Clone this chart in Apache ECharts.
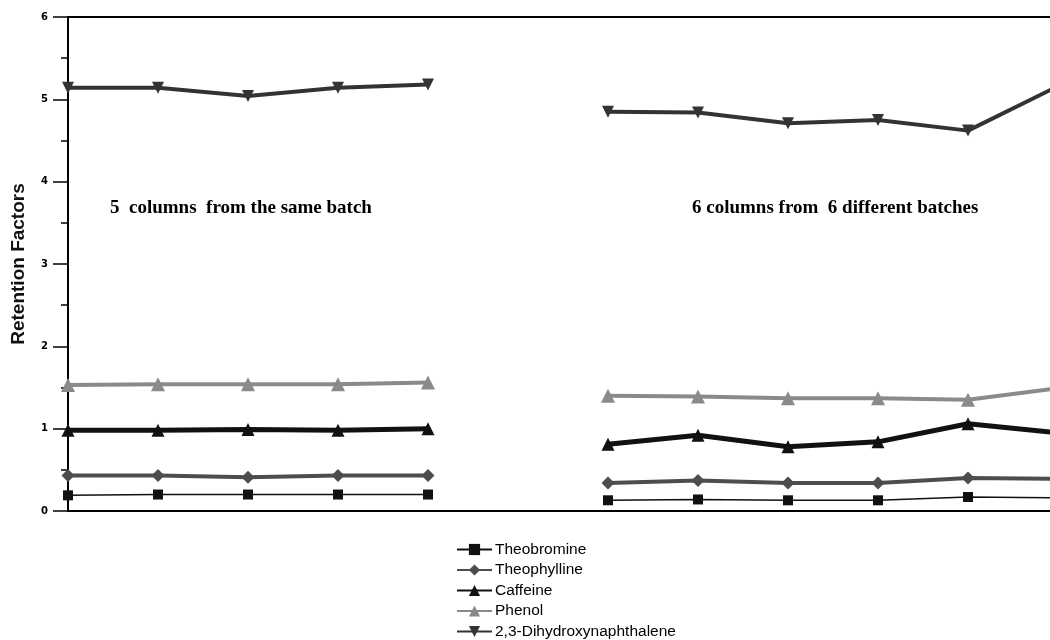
<!DOCTYPE html>
<html><head><meta charset="utf-8">
<script src="https://cdn.jsdelivr.net/npm/echarts@6/dist/echarts.min.js"></script>
<style>html,body{margin:0;padding:0;background:#fff}#c{width:1050px;height:640px}</style>
</head><body><div id="c"></div>
<script>
// x positions of columns: 0-4 same batch, 5 = gap, 6-11 different batches
const xPositions = [0, 1, 2, 3, 4, 5, 6, 7, 8, 9, 10, 11];
const theobromine = [0.19, 0.20, 0.20, 0.20, 0.20, null, 0.13, 0.14, 0.13, 0.13, 0.17, 0.16];
const theophylline = [0.43, 0.43, 0.41, 0.43, 0.43, null, 0.34, 0.37, 0.34, 0.34, 0.40, 0.39];
const caffeine = [0.98, 0.98, 0.99, 0.98, 1.00, null, 0.81, 0.92, 0.78, 0.84, 1.06, 0.95];
const phenol = [1.53, 1.54, 1.54, 1.54, 1.56, null, 1.40, 1.39, 1.37, 1.37, 1.35, 1.49];
const naphthalene = [5.14, 5.14, 5.04, 5.14, 5.18, null, 4.85, 4.84, 4.71, 4.75, 4.62, 5.16];
const yTicks = [0, 1, 2, 3, 4, 5, 6];
const seriesNames = ['Theobromine', 'Theophylline', 'Caffeine', 'Phenol', '2,3-Dihydroxynaphthalene'];
const annotations = ['5  columns  from the same batch', '6 columns from  6 different batches'];

const pairs = arr => xPositions.map((x, i) => [x, arr[i] === null ? '-' : arr[i]]);
const mk = (name, arr, color, width, symbol, size, z) => ({
  name, type: 'line', data: pairs(arr), connectNulls: false, clip: true, z,
  symbol, symbolSize: size, showSymbol: true,
  lineStyle: { color, width }, itemStyle: { color, borderWidth: 0 },
  emphasis: { disabled: true }
});

const chart = echarts.init(document.getElementById('c'));
chart.setOption({
  animation: false,
  grid: { left: 68, top: 17, right: 0, bottom: 129, containLabel: false },
  xAxis: [
    { type: 'value', min: 0, max: 10.911, position: 'bottom',
      axisLine: { show: true, lineStyle: { color: '#000', width: 2 } },
      axisTick: { show: false }, axisLabel: { show: false }, splitLine: { show: false } },
    { type: 'value', min: 0, max: 10.911, position: 'top',
      axisLine: { show: true, lineStyle: { color: '#000', width: 2 } },
      axisTick: { show: false }, axisLabel: { show: false }, splitLine: { show: false } }
  ],
  yAxis: {
    type: 'value', min: 0, max: 6, interval: 1,
    name: 'Retention Factors', nameLocation: 'middle', nameGap: 40, nameRotate: 90,
    nameTextStyle: { fontFamily: 'Liberation Sans, Arial', fontWeight: 'bold', fontSize: 19, color: '#111' },
    axisLine: { show: true, lineStyle: { color: '#000', width: 2 } },
    axisTick: { show: true, length: 15, lineStyle: { color: '#000', width: 1.5 } },
    minorTick: { show: true, splitNumber: 2, length: 7, lineStyle: { color: '#000', width: 1.5 } },
    axisLabel: { margin: 20, fontFamily: 'DejaVu Sans', fontWeight: 'bold', fontSize: 10, color: '#000',
      formatter: v => yTicks.includes(v) ? String(v) : '' },
    splitLine: { show: false }
  },
  legend: {
    orient: 'vertical', left: 456, top: 541, padding: 0, itemGap: 3.5, itemWidth: 35, itemHeight: 14,
    data: seriesNames,
    textStyle: { fontFamily: 'Liberation Sans, Arial', fontSize: 15.5, lineHeight: 17, color: '#000', padding: [0, 0, 0, -2] }
  },
  graphic: [
    { type: 'text', left: 110, top: 199, style: { text: annotations[0], font: 'bold 19px "Liberation Serif", "Times New Roman", serif', fill: '#000' } },
    { type: 'text', left: 692, top: 199, style: { text: annotations[1], font: 'bold 19px "Liberation Serif", "Times New Roman", serif', fill: '#000' } }
  ],
  series: [
    mk(seriesNames[0], theobromine, '#111', 1.5, 'rect', 10, 5),
    mk(seriesNames[1], theophylline, '#4d4d4d', 4, 'diamond', 13, 4),
    mk(seriesNames[2], caffeine, '#111', 5, 'triangle', 13, 3),
    mk(seriesNames[3], phenol, '#8a8a8a', 4, 'triangle', 14, 2),
    mk(seriesNames[4], naphthalene, '#333', 4, 'path://M0,0L10,0L5,9Z', 12, 1)
  ]
});
</script></body></html>
